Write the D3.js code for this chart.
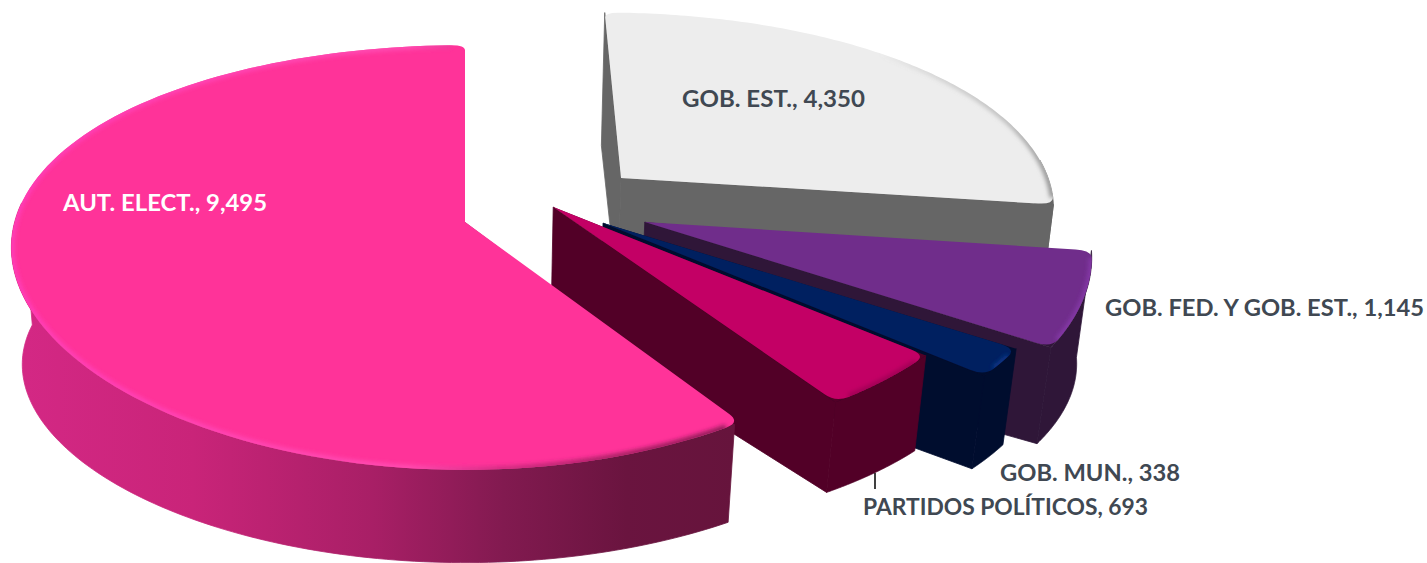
<!DOCTYPE html>
<html>
<head>
<meta charset="utf-8">
<script src="https://cdnjs.cloudflare.com/ajax/libs/d3/7.8.5/d3.min.js"></script>
<style>html,body{margin:0;padding:0;background:#fff;overflow:hidden}svg{display:block}</style>
</head>
<body>
<script>
// ---- data ----
const categories = ["GOB. EST.", "GOB. FED. Y GOB. EST.", "GOB. MUN.", "PARTIDOS POLÍTICOS", "AUT. ELECT."];
const values = [4350, 1145, 338, 693, 9495];
const topColors = ["#EDEDED", "#702D8B", "#002060", "#C30065", "#FF3399"];
const sideColors = ["#666666", "#2F1638", "#000D2E", "#520027", "#8F1A5B"];
// ---- layout ----
const W = 1427, H = 563;
const explodeX = [0.36, 0.404, 0.31, 0.2, 0];
const explodeB = [0.221, 0, -0.005, 0.0735, 0];
const radiusK = [0.985, 0.99, 1.014, 1.012, 1.012];
const wallDepth = [110, 110, 110, 110, 120];
const wallTrim = [0, 0, 0, 0, 0.014];
const labelX = [682, 1105, 1000, 863, 63];
const labelY = [107, 316, 481, 515, 211];
const labelW = [183, 319, 180, 285, 204];
const labelFill = ["#404852", "#404852", "#404852", "#404852", "#ffffff"];
const fmt = d3.format(",");

const svg = d3.select("body").append("svg").attr("width", W).attr("height", H);
const defs = svg.append("defs");
defs.append("filter").attr("id", "soft").attr("filterUnits", "userSpaceOnUse")
  .attr("x", 0).attr("y", 0).attr("width", W).attr("height", H)
  .append("feGaussianBlur").attr("stdDeviation", 2);
function gradient(id, x1, x2, stops) {
  const g = defs.append("linearGradient").attr("id", id).attr("gradientUnits", "userSpaceOnUse")
    .attr("x1", x1).attr("x2", x2).attr("y1", 0).attr("y2", 0);
  stops.forEach(s => g.append("stop").attr("offset", s[0]).attr("stop-color", s[1]).attr("stop-opacity", s[2] === undefined ? 1 : s[2]));
}
gradient("pinkSide", 12, 735, [[0, "#D42885"], [0.25, "#C92479"], [0.5, "#A81F66"], [0.68, "#821A50"], [0.85, "#6A143F"], [1, "#66143C"]]);
gradient("pinkRim", 12, 735, [[0, "#FF3DB8"], [0.55, "#FF4DB2"], [0.68, "#D02A80"], [0.85, "#A0205F"], [1, "#8A1A55"]]);
gradient("grayRim", 880, 1060, [[0, "#8a8a8a", 0], [0.7, "#a0a0a0", 0.6], [1, "#8a8a8a", 1]]);
const rimColors = ["url(#grayRim)", "#8438A6", "#0B3485", "#A00455", "url(#pinkRim)"];

// projection
const R = 445, Ry = 206.5, vx = 465, vy = 222, kx = 0.12, ky = 0.167, taper = 0.024, floorFlat = 0.11;
const xScale = d3.scaleLinear().domain([-1, 1]).range([-R, R]);
const yScale = d3.scaleLinear().domain([-1, 1]).range([Ry, -Ry]);
function proj(X, b, h, D) {
  const sx = 1 / (1 + kx * b), sy = 1 / (1 + ky * b);
  return [vx + xScale(X) * sx * (1 - taper * h), vy + yScale(b) * sy * (1 - floorFlat * h) + D * h];
}
const pie = d3.pie().sort(null).value(d => d)(values);
const lineGen = d3.line().curve(d3.curveLinear);
const closed = pts => lineGen(pts) + "Z";

const slices = svg.append("g");
pie.forEach((p, i) => {
  const ox = explodeX[i], oz = explodeB[i], rk = radiusK[i], D = wallDepth[i];
  const pt = (t, r, h) => proj(ox + rk * r * Math.sin(t), oz + r * Math.cos(t), h, D);
  const a0 = p.startAngle, a1 = p.endAngle;
  const arcPts = (s, e, h) => d3.range(0, 121).map(k => pt(s + (e - s) * k / 120, 1, h));
  const g = slices.append("g");
  const wallFill = i === 4 ? "url(#pinkSide)" : sideColors[i];

  // outer wall (front-facing part)
  const ws = Math.max(a0 + wallTrim[i], Math.PI * 0.47), we = Math.min(a1, Math.PI * 1.53);
  if (we > ws) {
    g.append("path")
      .attr("d", closed(arcPts(ws, we, 0).concat(arcPts(ws, we, 1).reverse())))
      .attr("fill", wallFill).attr("stroke", wallFill).attr("stroke-width", 0.8);
  }

  // cut faces, kept only when they face the viewer
  const mid = pt((a0 + a1) / 2, 1, 0);
  [a0, a1].forEach(t => {
    const A = pt(t, 0, 0), B = pt(t, 1, 0), A2 = pt(t, 0, 1), B2 = pt(t, 1, 1);
    const side = q => (B[0] - A[0]) * (q[1] - A[1]) - (B[1] - A[1]) * (q[0] - A[0]);
    if (side(mid) * side(A2) < 0 && Math.abs(B[0] - A[0]) > 0.5) {
      g.append("path").attr("d", closed([A, B, B2, A2]))
        .attr("fill", sideColors[i]).attr("stroke", sideColors[i]).attr("stroke-width", 0.8);
    }
  });

  // wedge under the top face: only the front rim corners show the wall colour
  const ks = Math.max(a0 + wallTrim[i], Math.PI * 0.56), ke = Math.min(a1, Math.PI * 1.5);
  if (ke > ks) {
    g.append("path")
      .attr("d", closed([pt(a0, 0, 0)].concat(arcPts(ks, ke, 0))))
      .attr("fill", wallFill);
  }

  // top face with softened rim corners
  const rho = 0.035;
  const path = d3.path();
  const start = pt(a0, 0, 0), e0 = pt(a0, 1 - rho, 0), c0 = pt(a0, 1, 0), c1 = pt(a1, 1, 0), e1 = pt(a1, 1 - rho, 0);
  const inner = arcPts(a0 + rho, a1 - rho, 0);
  path.moveTo(start[0], start[1]);
  path.lineTo(e0[0], e0[1]);
  path.quadraticCurveTo(c0[0], c0[1], inner[0][0], inner[0][1]);
  inner.slice(1).forEach(q => path.lineTo(q[0], q[1]));
  path.quadraticCurveTo(c1[0], c1[1], e1[0], e1[1]);
  path.closePath();
  const d = path.toString();
  const clipId = "clip" + i;
  defs.append("clipPath").attr("id", clipId).append("path").attr("d", d);
  g.append("path").attr("d", d).attr("fill", topColors[i]);
  // bevel shading along the rim
  g.append("g").attr("clip-path", `url(#${clipId})`)
    .append("path").attr("d", lineGen(inner)).attr("fill", "none")
    .attr("stroke", rimColors[i]).attr("stroke-width", 6).attr("filter", "url(#soft)");
});

// leader line
const leader = d3.path(); leader.moveTo(875, 473); leader.lineTo(875, 489);
svg.append("path").attr("d", leader.toString()).attr("stroke", "#111").attr("stroke-width", 1.6).attr("fill", "none");

// labels
svg.append("g").selectAll("text").data(categories).join("text")
  .attr("x", (d, i) => labelX[i]).attr("y", (d, i) => labelY[i])
  .attr("font-family", "Lato, 'Open Sans', sans-serif").attr("font-weight", 700).attr("font-size", 23)
  .attr("textLength", (d, i) => labelW[i]).attr("lengthAdjust", "spacingAndGlyphs")
  .attr("fill", (d, i) => labelFill[i])
  .text((d, i) => `${d}, ${fmt(values[i])}`);
</script>
</body>
</html>
